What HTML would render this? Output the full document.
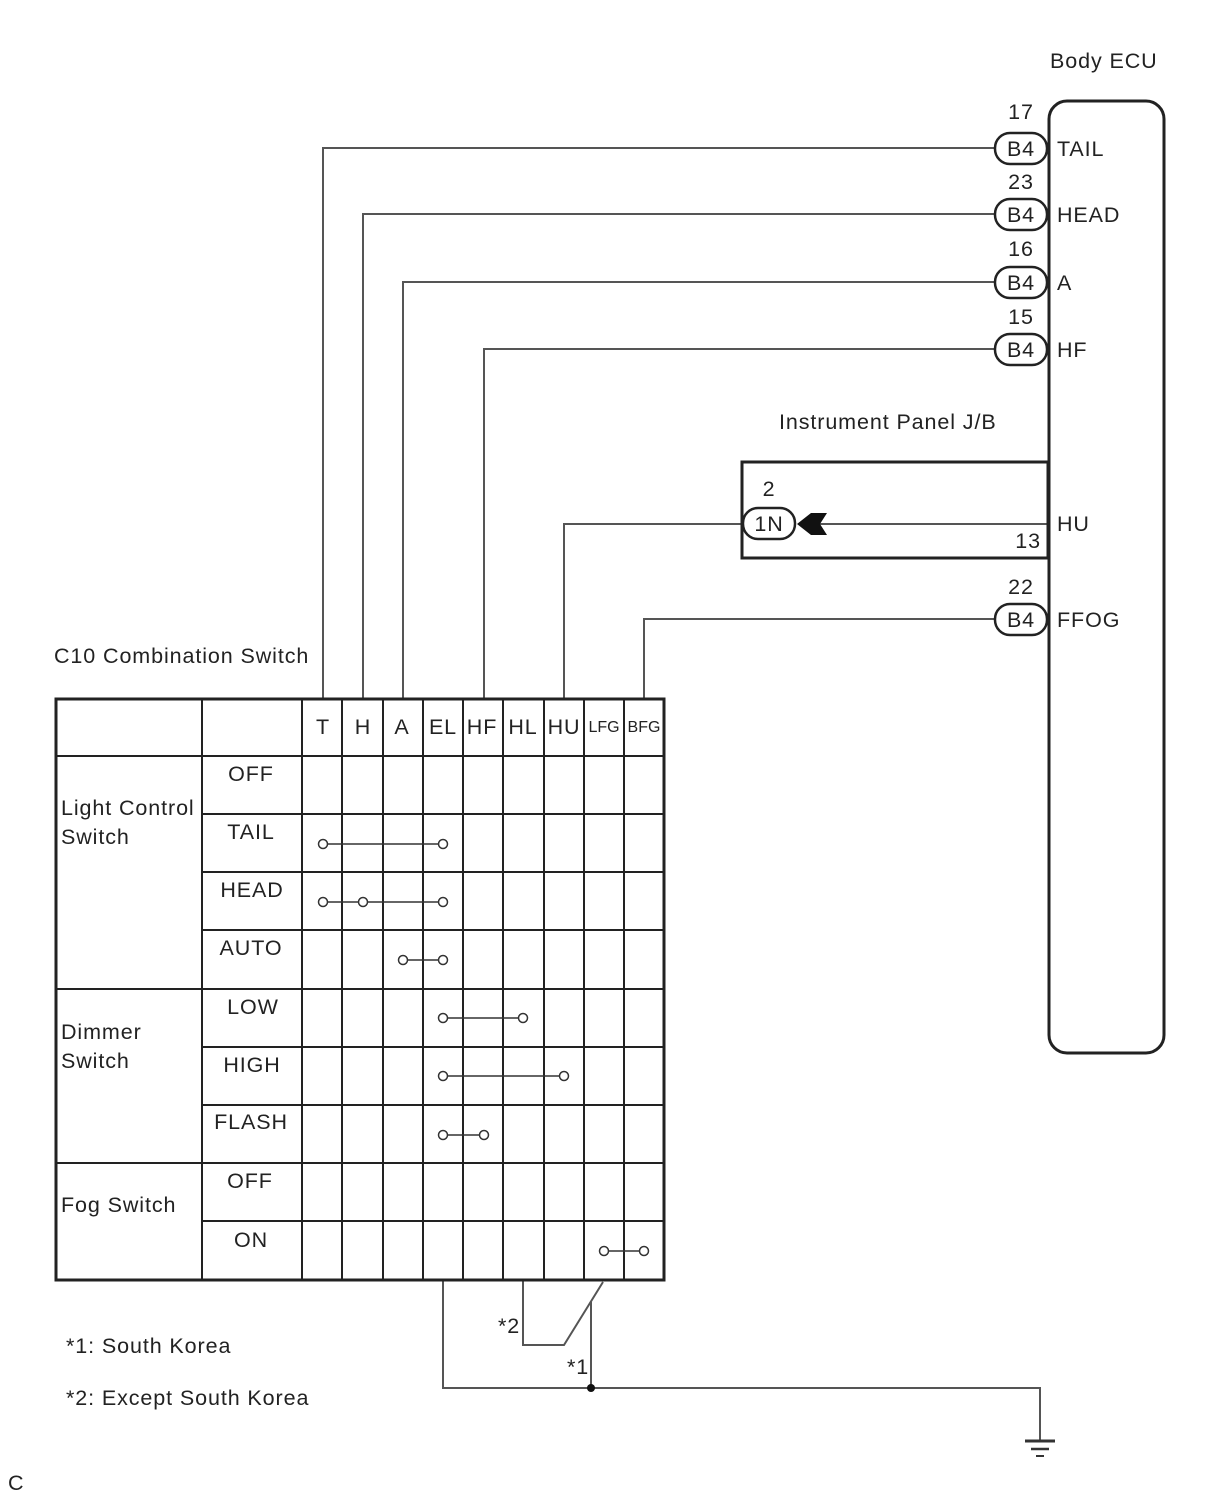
<!DOCTYPE html>
<html><head><meta charset="utf-8"><style>
html,body{margin:0;padding:0;background:#fff}
svg{display:block}
text{font-family:"Liberation Sans",Arial,sans-serif;fill:#222;font-size:21.5px;letter-spacing:0.9px}
</style></head><body>
<svg width="1210" height="1498" viewBox="0 0 1210 1498" xmlns="http://www.w3.org/2000/svg">
<g stroke="#555" stroke-width="2" fill="none">
<polyline points="996,148 323,148 323,698"/>
<polyline points="996,214 363,214 363,698"/>
<polyline points="996,282 403,282 403,698"/>
<polyline points="996,349 484,349 484,698"/>
<polyline points="743,524 564,524 564,698"/>
<line x1="800" y1="524" x2="1048" y2="524"/>
<polyline points="996,619 644,619 644,698"/>
<polyline points="443,1280 443,1388 1040,1388 1040,1440"/>
<polyline points="523,1280 523,1345 564,1345 603,1282"/>
<line x1="591" y1="1302" x2="591" y2="1388"/>
</g>
<rect x="1049" y="101" width="115" height="952" rx="18" fill="none" stroke="#222" stroke-width="3"/>
<rect x="742" y="462" width="306" height="96" fill="none" stroke="#222" stroke-width="3"/>
<path d="M797,524 L811,513 L827,513 L820,524 L827,535 L811,535 Z" fill="#111"/>
<g fill="#fff" stroke="#222" stroke-width="2.5">
<rect x="995" y="133" width="52" height="31" rx="15"/>
<rect x="995" y="199" width="52" height="31" rx="15"/>
<rect x="995" y="267" width="52" height="31" rx="15"/>
<rect x="995" y="334" width="52" height="31" rx="15"/>
<rect x="995" y="604" width="52" height="31" rx="15"/>
<rect x="743" y="508" width="52" height="31" rx="15"/>
</g>
<g text-anchor="middle">
<text x="1021" y="156">B4</text><text x="1021" y="222">B4</text><text x="1021" y="290">B4</text><text x="1021" y="357">B4</text><text x="1021" y="627">B4</text><text x="769" y="531">1N</text>
<text x="1021" y="119">17</text><text x="1021" y="189">23</text><text x="1021" y="256">16</text><text x="1021" y="324">15</text><text x="1021" y="594">22</text><text x="769" y="496">2</text>
</g>
<text x="1041" y="548" text-anchor="end">13</text>
<text x="1057" y="156">TAIL</text><text x="1057" y="222">HEAD</text><text x="1057" y="290">A</text><text x="1057" y="357">HF</text><text x="1057" y="531">HU</text><text x="1057" y="627">FFOG</text>
<text x="1050" y="68">Body ECU</text>
<text x="779" y="429">Instrument Panel J/B</text>
<text x="54" y="663">C10 Combination Switch</text>
<g stroke="#222" stroke-width="2" fill="none">
<rect x="56" y="699" width="608" height="581" stroke-width="3"/>
<line x1="202" y1="699" x2="202" y2="1280"/>
<line x1="302" y1="699" x2="302" y2="1280"/>
<line x1="342" y1="699" x2="342" y2="1280"/>
<line x1="383" y1="699" x2="383" y2="1280"/>
<line x1="423" y1="699" x2="423" y2="1280"/>
<line x1="463" y1="699" x2="463" y2="1280"/>
<line x1="503" y1="699" x2="503" y2="1280"/>
<line x1="544" y1="699" x2="544" y2="1280"/>
<line x1="584" y1="699" x2="584" y2="1280"/>
<line x1="624" y1="699" x2="624" y2="1280"/>
<line x1="56" y1="756" x2="664" y2="756"/>
<line x1="202" y1="814" x2="664" y2="814"/>
<line x1="202" y1="872" x2="664" y2="872"/>
<line x1="202" y1="930" x2="664" y2="930"/>
<line x1="56" y1="989" x2="664" y2="989"/>
<line x1="202" y1="1047" x2="664" y2="1047"/>
<line x1="202" y1="1105" x2="664" y2="1105"/>
<line x1="56" y1="1163" x2="664" y2="1163"/>
<line x1="202" y1="1221" x2="664" y2="1221"/>
</g>
<g text-anchor="middle">
<text x="323" y="734">T</text><text x="363" y="734">H</text><text x="402" y="734">A</text><text x="443" y="734">EL</text><text x="482" y="734">HF</text><text x="523" y="734">HL</text><text x="564" y="734">HU</text>
<text x="604" y="732" style="font-size:16px;letter-spacing:0">LFG</text><text x="644" y="732" style="font-size:16px;letter-spacing:0">BFG</text>
<text x="251" y="781">OFF</text><text x="251" y="839">TAIL</text><text x="252" y="897">HEAD</text><text x="251" y="955">AUTO</text>
<text x="253" y="1014">LOW</text><text x="252" y="1072">HIGH</text><text x="251" y="1129">FLASH</text>
<text x="250" y="1188">OFF</text><text x="251" y="1247">ON</text>
</g>
<text x="61" y="815">Light Control</text><text x="61" y="844">Switch</text>
<text x="61" y="1039">Dimmer</text><text x="61" y="1068">Switch</text>
<text x="61" y="1212">Fog Switch</text>
<g stroke="#333" stroke-width="1.5" fill="#fff">
<line x1="323" y1="844" x2="443" y2="844"/>
<line x1="323" y1="902" x2="443" y2="902"/>
<line x1="403" y1="960" x2="443" y2="960"/>
<line x1="443" y1="1018" x2="523" y2="1018"/>
<line x1="443" y1="1076" x2="564" y2="1076"/>
<line x1="443" y1="1135" x2="484" y2="1135"/>
<line x1="604" y1="1251" x2="644" y2="1251"/>
<circle cx="323" cy="844" r="4.5"/><circle cx="443" cy="844" r="4.5"/>
<circle cx="323" cy="902" r="4.5"/><circle cx="363" cy="902" r="4.5"/><circle cx="443" cy="902" r="4.5"/>
<circle cx="403" cy="960" r="4.5"/><circle cx="443" cy="960" r="4.5"/>
<circle cx="443" cy="1018" r="4.5"/><circle cx="523" cy="1018" r="4.5"/>
<circle cx="443" cy="1076" r="4.5"/><circle cx="564" cy="1076" r="4.5"/>
<circle cx="443" cy="1135" r="4.5"/><circle cx="484" cy="1135" r="4.5"/>
<circle cx="604" cy="1251" r="4.5"/><circle cx="644" cy="1251" r="4.5"/>
</g>
<circle cx="591" cy="1388" r="4" fill="#111"/>
<text x="498" y="1333">*2</text>
<text x="567" y="1374">*1</text>
<text x="66" y="1353">*1: South Korea</text>
<text x="66" y="1405">*2: Except South Korea</text>
<text x="8" y="1490">C</text>
<g stroke="#333">
<line x1="1025" y1="1441" x2="1055" y2="1441" stroke-width="3"/>
<line x1="1031" y1="1449" x2="1049" y2="1449" stroke-width="2.5"/>
<line x1="1036" y1="1456" x2="1044" y2="1456" stroke-width="2"/>
</g>
</svg>
</body></html>
